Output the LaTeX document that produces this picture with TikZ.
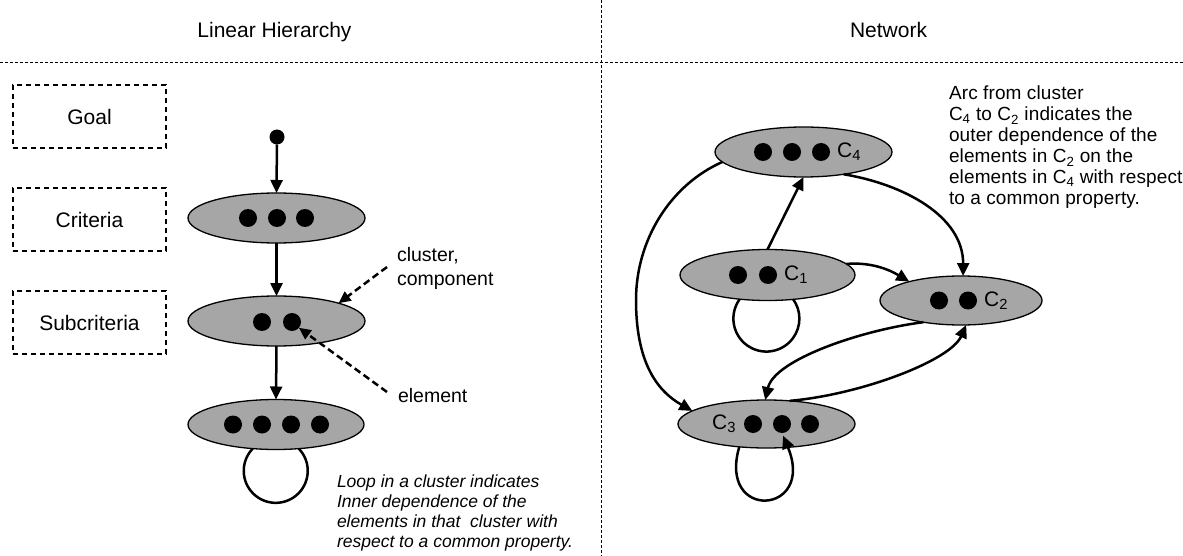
\documentclass[tikz,border=0pt]{standalone}
\usepackage{fontspec}
\setmainfont{Liberation Sans}
\usetikzlibrary{shapes.geometric,arrows.meta,calc}
\definecolor{clusterfill}{RGB}{166,166,166}
\begin{document}
\begin{tikzpicture}[x=1pt,y=-1pt,
  every node/.style={inner sep=0pt, outer sep=0pt},
  cluster/.style={ellipse, draw=black, line width=1.3pt, fill=clusterfill, minimum height=50},
  elem/.style={circle, fill=black, minimum size=18},
  levelbox/.style={draw=black, line width=1.1pt, dash pattern=on 5pt off 4pt,
    minimum width=153, minimum height=63, font=\fontsize{21}{25}\selectfont},
  arr/.style={line width=2.5pt, -{Triangle[length=13pt,width=12pt]}},
  loopline/.style={line width=2.5pt},
  dasharr/.style={line width=2.5pt, dash pattern=on 7pt off 4pt, -{Triangle[length=12pt,width=11pt]}},
  sep/.style={line width=0.9pt, dash pattern=on 3pt off 2pt},
  head/.style={font=\fontsize{21}{25}\selectfont, anchor=base},
  clabel/.style={font=\fontsize{21}{25}\selectfont},
  lbl/.style={font=\fontsize{19.5}{24}\selectfont, align=left}
]
\useasboundingbox (0,0) rectangle (1183,556);
\fill[white] (0,0) rectangle (1183,556);

% panel separators
\draw[sep] (0,62) -- (1183,62);
\draw[sep] (601,0) -- (601,556);

% headings
\node[head] (hdLeft) at (274.5,38) {Linear Hierarchy};
\node[head] (hdRight) at (888.5,38) {Network};

% level boxes
\node[levelbox] (goal) at (89.5,116.5) {Goal};
\node[levelbox] (crit) at (89.5,219.5) {Criteria};
\node[levelbox] (subc) at (89.5,322.5) {Subcriteria};

% ---------------- linear hierarchy ----------------
\node[circle, fill=black, minimum size=15] (top) at (277,137) {};
\node[cluster, minimum width=177] (h1) at (276.5,218) {};
\node[cluster, minimum width=177] (h2) at (276.5,321) {};
\node[cluster, minimum width=176] (h3) at (276,424.5) {};

\node[elem] (d11) at (248,218) {};
\node[elem] (d12) at (277,218) {};
\node[elem] (d13) at (305,218) {};
\node[elem] (d21) at (262,322) {};
\node[elem] (d22) at (292,322) {};
\node[elem] (d31) at (233,424.5) {};
\node[elem] (d32h) at (262,424.5) {};
\node[elem] (d33) at (291,424.5) {};
\node[elem] (d34) at (320,424.5) {};

\draw[arr] (top) -- (h1.north);
\draw[arr] (h1.south) -- (h2.north);
\draw[arr] (h2.south) -- (h3.north);
\draw[loopline] (h3.-134) arc[start angle=136, delta angle=268, radius=32pt];

% annotations
\node[lbl, anchor=north west] (clu) at (397,247) {cluster,\\component};
\node[lbl, anchor=base west] (ele) at (398,402) {element};
\coordinate (cluTail) at (387,267);
\coordinate (eleTail) at (387,392);
\draw[dasharr] (cluTail) -- (h2.16);
\draw[dasharr] (eleTail) -- (d22.-40);

\node[align=left, anchor=north west, font=\fontsize{17.5}{20}\selectfont\itshape] (loopNote) at (337,474.5)
  {Loop in a cluster indicates\\Inner dependence of the\\elements in that\ \ cluster with\\respect to a common property.};

% ---------------- network ----------------
\node[cluster, minimum width=177] (c4) at (803.5,152) {};
\node[cluster, minimum width=175, minimum height=51] (c1) at (767.5,275) {};
\node[cluster, minimum width=162, minimum height=49] (c2) at (961,300.5) {};
\node[cluster, minimum width=177, minimum height=48] (c3) at (766.5,424) {};

\node[elem] (e41) at (763,152) {};
\node[elem] (e42) at (792,152) {};
\node[elem] (e43) at (821,152) {};
\node[clabel] (l4) at (849,152) {C\textsubscript{4}};

\node[elem] (e11) at (738,275) {};
\node[elem] (e12) at (768,275) {};
\node[clabel] (l1) at (796,275) {C\textsubscript{1}};

\node[elem] (e21) at (939,300.5) {};
\node[elem] (e22) at (968,300.5) {};
\node[clabel] (l2) at (996,300.5) {C\textsubscript{2}};

\node[clabel] (l3) at (724,424) {C\textsubscript{3}};
\node[elem] (e31) at (753,424) {};
\node[elem] (e32) at (782,424) {};
\node[elem] (e33) at (810,424) {};

% arcs between clusters
\draw[arr] (c1.north) -- (c4.south);
\draw[arr] (c4.-29) .. controls +(60,10) and +(0,-60) .. (c2.85);
\draw[arr] (c1.8.5) .. controls +(25,-2) and +(-20,-12) .. (c2.160);
\draw[arr] (c4.187) .. controls +(-52,23) and +(0,-60) .. (636,300)
                    .. controls +(0,60) and +(-37,-21) .. (c3.170);
\draw[arr] (c2.-150) .. controls +(-63,8) and +(9,-40) .. (c3.93);
\draw[arr] (c3.45) .. controls +(70,-6) and +(-16,36) .. (c2.-78);

% loops
\draw[loopline] (c1.-139) arc[start angle=144, delta angle=252, radius=33pt];
\draw[arr, shorten >=3pt] (c3.-140) .. controls +(-22,75) and +(34,82) .. (e32.south);

\node[align=left, anchor=north west, font=\fontsize{19}{21}\selectfont\addfontfeature{LetterSpace=0.7}] (arcNote) at (949,86)
  {Arc from cluster\\C\textsubscript{4} to C\textsubscript{2} indicates the\\outer dependence of the\\elements in C\textsubscript{2} on the\\elements in C\textsubscript{4} with respect\\to a common property.};
\end{tikzpicture}
\end{document}
